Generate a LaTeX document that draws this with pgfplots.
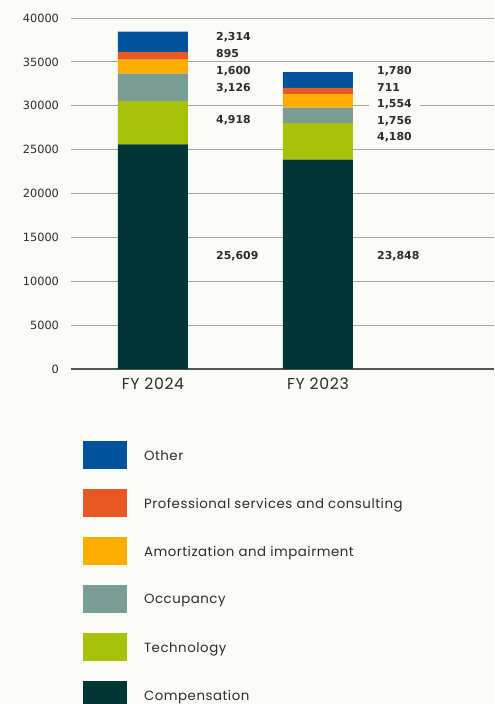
\documentclass[border=0pt]{standalone}
\usepackage{fontspec}
\setmainfont{Poppins}
\newfontfamily\numfont{DejaVu Sans}
\usepackage{pgfplots}
\pgfplotsset{compat=1.18}

\definecolor{bgc}{RGB}{250,250,246}
\definecolor{gridc}{RGB}{165,165,160}
\definecolor{axisc}{RGB}{85,85,85}
\definecolor{textc}{RGB}{45,45,45}
\definecolor{cOther}{RGB}{0,83,155}
\definecolor{cProf}{RGB}{232,88,36}
\definecolor{cAmort}{RGB}{255,174,0}
\definecolor{cOcc}{RGB}{122,158,150}
\definecolor{cTech}{RGB}{168,194,8}
\definecolor{cComp}{RGB}{0,54,53}

\pgfkeys{/pgf/number format/.cd, 1000 sep={}, assume math mode=true}

\begin{document}
\begin{tikzpicture}
\clip (0,0) rectangle (370.5pt,528pt);
\fill[bgc] (0,0) rectangle (370.5pt,528pt);
\begin{axis}[
  at={(53.25pt,251.25pt)}, anchor=south west,
  scale only axis, width=317.25pt, height=263.25pt,
  ybar stacked, bar width=52.5pt,
  xmin=-0.497, xmax=2.067, ymin=0, ymax=40000,
  xtick={0,1}, xticklabels={FY 2024, FY 2023},
  ytick={5000,10000,...,40000},
  extra y ticks={0},
  extra y tick style={grid style={color=axisc, line width=0.9pt}},
  ymajorgrids, grid style={color=gridc, line width=0.75pt},
  axis line style={draw=none},
  major tick length=0pt,
  scaled y ticks=false,
  yticklabel style={font=\numfont\fontsize{8.5}{10}\selectfont, text=textc, xshift=-5.5pt},
  xticklabel style={font=\addfontfeature{LetterSpace=4}\fontsize{11.8}{13}\selectfont, text=textc, yshift=-3pt},
  reverse legend,
  legend image code/.code={\fill[#1] (0pt,-9.5pt) rectangle (33pt,11.5pt); \path (45.75pt,0pt);},
  legend style={at={(axis description cs:0.0284,-0.205)}, anchor=north west,
    draw=none, fill=none, inner sep=0pt, outer sep=0pt, row sep=15pt,
    nodes={inner sep=0pt}, font=\addfontfeature{LetterSpace=4}\fontsize{10}{12}\selectfont, text=textc},
  legend cell align=left,
]
\addplot[fill=cComp, draw=none] coordinates {(0,25609) (1,23848)};
\addplot[fill=cTech, draw=none] coordinates {(0,4918) (1,4180)};
\addplot[fill=cOcc, draw=none] coordinates {(0,3126) (1,1756)};
\addplot[fill=cAmort, draw=none] coordinates {(0,1600) (1,1554)};
\addplot[fill=cProf, draw=none] coordinates {(0,895) (1,711)};
\addplot[fill=cOther, draw=none] coordinates {(0,2314) (1,1780)};
\legend{Compensation, Technology, Occupancy, Amortization and impairment, Professional services and consulting, Other}

\tikzset{vlab/.style={anchor=west, fill=bgc, inner xsep=6pt, inner ysep=1.5pt, text=textc, font=\numfont\bfseries\fontsize{8.2}{9}\selectfont}}
\node[vlab] at (axis cs:0.333,37835) {2,314};
\node[vlab] at (axis cs:0.333,35897) {895};
\node[vlab] at (axis cs:0.333,33960) {1,600};
\node[vlab] at (axis cs:0.333,32023) {3,126};
\node[vlab] at (axis cs:0.333,28376) {4,918};
\node[vlab] at (axis cs:0.333,12877) {25,609};
\node[vlab] at (axis cs:1.309,33960) {1,780};
\node[vlab] at (axis cs:1.309,32023) {711};
\node[vlab] at (axis cs:1.309,30199) {1,554};
\node[vlab] at (axis cs:1.309,28262) {1,756};
\node[vlab] at (axis cs:1.309,26439) {4,180};
\node[vlab] at (axis cs:1.309,12877) {23,848};
\end{axis}
\end{tikzpicture}
\end{document}
